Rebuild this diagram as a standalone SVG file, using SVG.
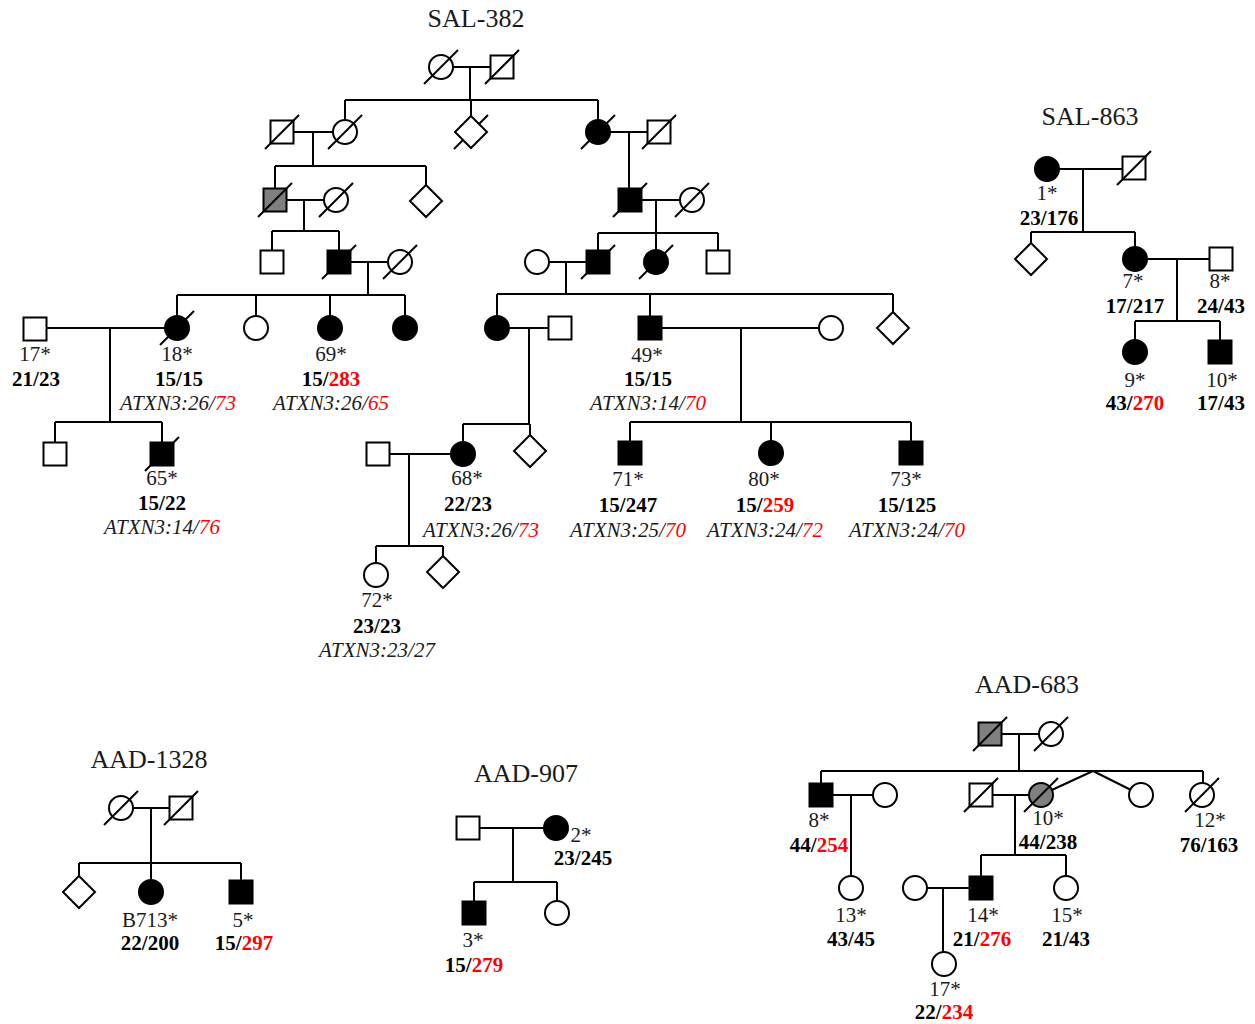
<svg xmlns="http://www.w3.org/2000/svg" width="1255" height="1024" viewBox="0 0 1255 1024">
<style>
.l{stroke:#000;stroke-width:2;fill:none}
.o{fill:#fff;stroke:#000;stroke-width:2}
.f{fill:#000;stroke:#000;stroke-width:2}
.g{fill:#808080;stroke:#000;stroke-width:2}
.s{stroke:#000;stroke-width:2}
text{font-family:"Liberation Serif","Times New Roman",serif;font-size:21px;fill:#1a1a1a;text-anchor:middle}
.b{font-weight:bold;fill:#000}
.i{font-style:italic}
.r{fill:#ff0000}
.t{font-size:26px}
</style>
<rect width="1255" height="1024" fill="#fff"/>
<g id="connectors" class="l">
<path d="M453 67H490M470 67V100M345 100H598M345 100V120M471 100V116M598 100V120
M294 132H333M313 132V166M275 166H426M275 166V188M426 166V185
M610 132H647M629 132V188
M287 200H324M304 200V231M272 231H339M272 231V250M339 231V250
M642 200H680M656 200V233M598 233H718M598 233V250M656 233V250M718 233V250
M351 262H388M368 262V295M177 295H405M177 295V316M256 295V316M330 295V316M405 295V316
M549 262H586M566 262V294M497 294H893M497 294V316M650 294V316M893 294V312
M47 328H165M110 328V422M55 422H162M55 422V442M162 422V442
M509 328H548M529 328V424M463 424H530M463 424V442M530 424V435
M662 328H819M741 328V422M630 422H911M630 422V441M771 422V441M911 422V441
M390 454H451M409 454V546M376 546H443M376 546V563M443 546V556"/>
<path d="M1059 169H1122M1083 169V232M1031 232H1135M1031 232V243M1135 232V247M1147 259H1209M1177 259V321M1135 321H1220M1135 321V340M1220 321V340"/>
<path d="M133 808H169M151 808V863M79 863H241M79 863V876M151 863V880M241 863V880"/>
<path d="M480 828H544M513 828V882M474 882H557M474 882V901M557 882V901"/>
<path d="M1002 734H1039M1019 734V771M821 771H1203M821 771V783M1203 771V783M1093 771L1041 795M1093 771L1141 795M833 795H873M851 795V876M993 795H1029M1015 795V855M981 855H1066M981 855V876M1066 855V876M927 888H969M943 888V952"/>
</g>
<text class="t" x="476" y="27">SAL-382</text>
<g id="s382_1"><circle class="o" cx="441" cy="67" r="12"/><line class="s" x1="424" y1="84" x2="458" y2="50"/></g>
<g id="s382_2"><rect class="o" x="490.5" y="55.5" width="23" height="23"/><line class="s" x1="485" y1="84" x2="519" y2="50"/></g>
<g id="s382_3"><rect class="o" x="270.5" y="120.5" width="23" height="23"/><line class="s" x1="265" y1="149" x2="299" y2="115"/></g>
<g id="s382_4"><circle class="o" cx="345" cy="132" r="12"/><line class="s" x1="328" y1="149" x2="362" y2="115"/></g>
<g id="s382_5"><line class="s" x1="454" y1="149" x2="488" y2="115"/><polygon class="o" points="471,116 487,132 471,148 455,132"/></g>
<g id="s382_6"><circle class="f" cx="598" cy="132" r="12"/><line class="s" x1="581" y1="149" x2="615" y2="115"/></g>
<g id="s382_7"><rect class="o" x="647.5" y="120.5" width="23" height="23"/><line class="s" x1="642" y1="149" x2="676" y2="115"/></g>
<g id="s382_8"><rect class="g" x="263.5" y="188.5" width="23" height="23"/><line class="s" x1="258" y1="217" x2="292" y2="183"/></g>
<g id="s382_9"><circle class="o" cx="336" cy="200" r="12"/><line class="s" x1="319" y1="217" x2="353" y2="183"/></g>
<g id="s382_10"><polygon class="o" points="426,185 442,201 426,217 410,201"/></g>
<g id="s382_11"><rect class="f" x="618.5" y="188.5" width="23" height="23"/><line class="s" x1="613" y1="217" x2="647" y2="183"/></g>
<g id="s382_12"><circle class="o" cx="692" cy="200" r="12"/><line class="s" x1="675" y1="217" x2="709" y2="183"/></g>
<g id="s382_13"><rect class="o" x="260.5" y="250.5" width="23" height="23"/></g>
<g id="s382_14"><rect class="f" x="327.5" y="250.5" width="23" height="23"/><line class="s" x1="322" y1="279" x2="356" y2="245"/></g>
<g id="s382_15"><circle class="o" cx="400" cy="262" r="12"/><line class="s" x1="383" y1="279" x2="417" y2="245"/></g>
<g id="s382_16"><circle class="o" cx="537" cy="262" r="12"/></g>
<g id="s382_17"><rect class="f" x="586.5" y="250.5" width="23" height="23"/><line class="s" x1="581" y1="279" x2="615" y2="245"/></g>
<g id="s382_18"><circle class="f" cx="656" cy="262" r="12"/><line class="s" x1="639" y1="279" x2="673" y2="245"/></g>
<g id="s382_19"><rect class="o" x="706.5" y="250.5" width="23" height="23"/></g>
<g id="s382_p17"><rect class="o" x="23.5" y="317.5" width="23" height="23"/><text x="35" y="361">17*</text><text class="b" x="36" y="386">21/23</text></g>
<g id="s382_p18"><circle class="f" cx="177" cy="328" r="12"/><line class="s" x1="160" y1="345" x2="194" y2="311"/><text x="177" y="361">18*</text><text class="b" x="179" y="386">15/15</text><text class="i" x="178" y="410">ATXN3:26/<tspan class="r">73</tspan></text></g>
<g id="s382_20"><circle class="o" cx="256" cy="328" r="12"/></g>
<g id="s382_p69"><circle class="f" cx="330" cy="328" r="12"/><text x="331" y="361">69*</text><text class="b" x="331" y="386">15/<tspan class="r">283</tspan></text><text class="i" x="331" y="410">ATXN3:26/<tspan class="r">65</tspan></text></g>
<g id="s382_21"><circle class="f" cx="405" cy="328" r="12"/></g>
<g id="s382_22"><circle class="f" cx="497" cy="328" r="12"/></g>
<g id="s382_23"><rect class="o" x="548.5" y="316.5" width="23" height="23"/></g>
<g id="s382_p49"><rect class="f" x="638.5" y="316.5" width="23" height="23"/><text x="647" y="362">49*</text><text class="b" x="648" y="386">15/15</text><text class="i" x="648" y="410">ATXN3:14/<tspan class="r">70</tspan></text></g>
<g id="s382_24"><circle class="o" cx="831" cy="328" r="12"/></g>
<g id="s382_25"><polygon class="o" points="893,312 909,328 893,344 877,328"/></g>
<g id="s382_26"><rect class="o" x="43.5" y="442.5" width="23" height="23"/></g>
<g id="s382_p65"><rect class="f" x="150.5" y="442.5" width="23" height="23"/><line class="s" x1="145" y1="471" x2="179" y2="437"/><text x="162" y="485">65*</text><text class="b" x="162" y="510">15/22</text><text class="i" x="162" y="534">ATXN3:14/<tspan class="r">76</tspan></text></g>
<g id="s382_27"><rect class="o" x="366.5" y="442.5" width="23" height="23"/></g>
<g id="s382_p68"><circle class="f" cx="463" cy="454" r="12"/><text x="467" y="485">68*</text><text class="b" x="468" y="511">22/23</text><text class="i" x="481" y="537">ATXN3:26/<tspan class="r">73</tspan></text></g>
<g id="s382_28"><polygon class="o" points="530,435 546,451 530,467 514,451"/></g>
<g id="s382_p71"><rect class="f" x="618.5" y="441.5" width="23" height="23"/><text x="628" y="486">71*</text><text class="b" x="628" y="512">15/247</text><text class="i" x="628" y="537">ATXN3:25/<tspan class="r">70</tspan></text></g>
<g id="s382_p80"><circle class="f" cx="771" cy="453" r="12"/><text x="764" y="486">80*</text><text class="b" x="765" y="512">15/<tspan class="r">259</tspan></text><text class="i" x="765" y="537">ATXN3:24/<tspan class="r">72</tspan></text></g>
<g id="s382_p73"><rect class="f" x="899.5" y="441.5" width="23" height="23"/><text x="906" y="486">73*</text><text class="b" x="907" y="512">15/125</text><text class="i" x="907" y="537">ATXN3:24/<tspan class="r">70</tspan></text></g>
<g id="s382_p72"><circle class="o" cx="376" cy="575" r="12"/><text x="377" y="607">72*</text><text class="b" x="377" y="633">23/23</text><text class="i" x="377" y="657">ATXN3:23/27</text></g>
<g id="s382_29"><polygon class="o" points="443,556 459,572 443,588 427,572"/></g>

<text class="t" x="1090" y="125">SAL-863</text>
<g id="s863_1"><circle class="f" cx="1047" cy="169" r="12"/><text x="1047" y="200">1*</text><text class="b" x="1049" y="225">23/176</text></g>
<g id="s863_2"><rect class="o" x="1122.5" y="156.5" width="23" height="23"/><line class="s" x1="1117" y1="185" x2="1151" y2="151"/></g>
<g id="s863_3"><polygon class="o" points="1031,243 1047,259 1031,275 1015,259"/></g>
<g id="s863_7"><circle class="f" cx="1135" cy="259" r="12"/><text x="1133" y="288">7*</text><text class="b" x="1135" y="313">17/217</text></g>
<g id="s863_8"><rect class="o" x="1209.5" y="247.5" width="23" height="23"/><text x="1220" y="288">8*</text><text class="b" x="1221" y="313">24/43</text></g>
<g id="s863_9"><circle class="f" cx="1135" cy="352" r="12"/><text x="1135" y="387">9*</text><text class="b" x="1135" y="410">43/<tspan class="r">270</tspan></text></g>
<g id="s863_10"><rect class="f" x="1208.5" y="340.5" width="23" height="23"/><text x="1222" y="387">10*</text><text class="b" x="1221" y="410">17/43</text></g>

<text class="t" x="149" y="768">AAD-1328</text>
<g id="a1328_1"><circle class="o" cx="121" cy="808" r="12"/><line class="s" x1="104" y1="825" x2="138" y2="791"/></g>
<g id="a1328_2"><rect class="o" x="169.5" y="796.5" width="23" height="23"/><line class="s" x1="164" y1="825" x2="198" y2="791"/></g>
<g id="a1328_3"><polygon class="o" points="79,876 95,892 79,908 63,892"/></g>
<g id="a1328_B713"><circle class="f" cx="151" cy="892" r="12"/><text x="150" y="927">B713*</text><text class="b" x="150" y="950">22/200</text></g>
<g id="a1328_5"><rect class="f" x="229.5" y="880.5" width="23" height="23"/><text x="243" y="927">5*</text><text class="b" x="244" y="950">15/<tspan class="r">297</tspan></text></g>

<text class="t" x="526" y="782">AAD-907</text>
<g id="a907_1"><rect class="o" x="456.5" y="816.5" width="23" height="23"/></g>
<g id="a907_2"><circle class="f" cx="556" cy="828" r="12"/><text x="581" y="842">2*</text><text class="b" x="583" y="865">23/245</text></g>
<g id="a907_3"><rect class="f" x="462.5" y="901.5" width="23" height="23"/><text x="473" y="947">3*</text><text class="b" x="474" y="972">15/<tspan class="r">279</tspan></text></g>
<g id="a907_4"><circle class="o" cx="557" cy="913" r="12"/></g>

<text class="t" x="1027" y="693">AAD-683</text>
<g id="a683_1"><rect class="g" x="978.5" y="722.5" width="23" height="23"/><line class="s" x1="973" y1="751" x2="1007" y2="717"/></g>
<g id="a683_2"><circle class="o" cx="1051" cy="734" r="12"/><line class="s" x1="1034" y1="751" x2="1068" y2="717"/></g>
<g id="a683_8"><rect class="f" x="809.5" y="783.5" width="23" height="23"/><text x="819" y="827">8*</text><text class="b" x="819" y="852">44/<tspan class="r">254</tspan></text></g>
<g id="a683_3"><circle class="o" cx="885" cy="795" r="12"/></g>
<g id="a683_13"><circle class="o" cx="851" cy="888" r="12"/><text x="851" y="922">13*</text><text class="b" x="851" y="946">43/45</text></g>
<g id="a683_4"><rect class="o" x="969.5" y="783.5" width="23" height="23"/><line class="s" x1="964" y1="812" x2="998" y2="778"/></g>
<g id="a683_10"><circle class="g" cx="1041" cy="795" r="12"/><line class="s" x1="1024" y1="812" x2="1058" y2="778"/><text x="1048" y="825">10*</text><text class="b" x="1048" y="849">44/238</text></g>
<g id="a683_5"><circle class="o" cx="1141" cy="795" r="12"/></g>
<g id="a683_12"><circle class="o" cx="1202" cy="795" r="12"/><line class="s" x1="1185" y1="812" x2="1219" y2="778"/><text x="1210" y="827">12*</text><text class="b" x="1209" y="852">76/163</text></g>
<g id="a683_6"><circle class="o" cx="915" cy="888" r="12"/></g>
<g id="a683_14"><rect class="f" x="969.5" y="876.5" width="23" height="23"/><text x="983" y="922">14*</text><text class="b" x="982" y="946">21/<tspan class="r">276</tspan></text></g>
<g id="a683_15"><circle class="o" cx="1066" cy="888" r="12"/><text x="1067" y="922">15*</text><text class="b" x="1066" y="946">21/43</text></g>
<g id="a683_17"><circle class="o" cx="944" cy="964" r="12"/><text x="945" y="996">17*</text><text class="b" x="944" y="1019">22/<tspan class="r">234</tspan></text></g>
</svg>
